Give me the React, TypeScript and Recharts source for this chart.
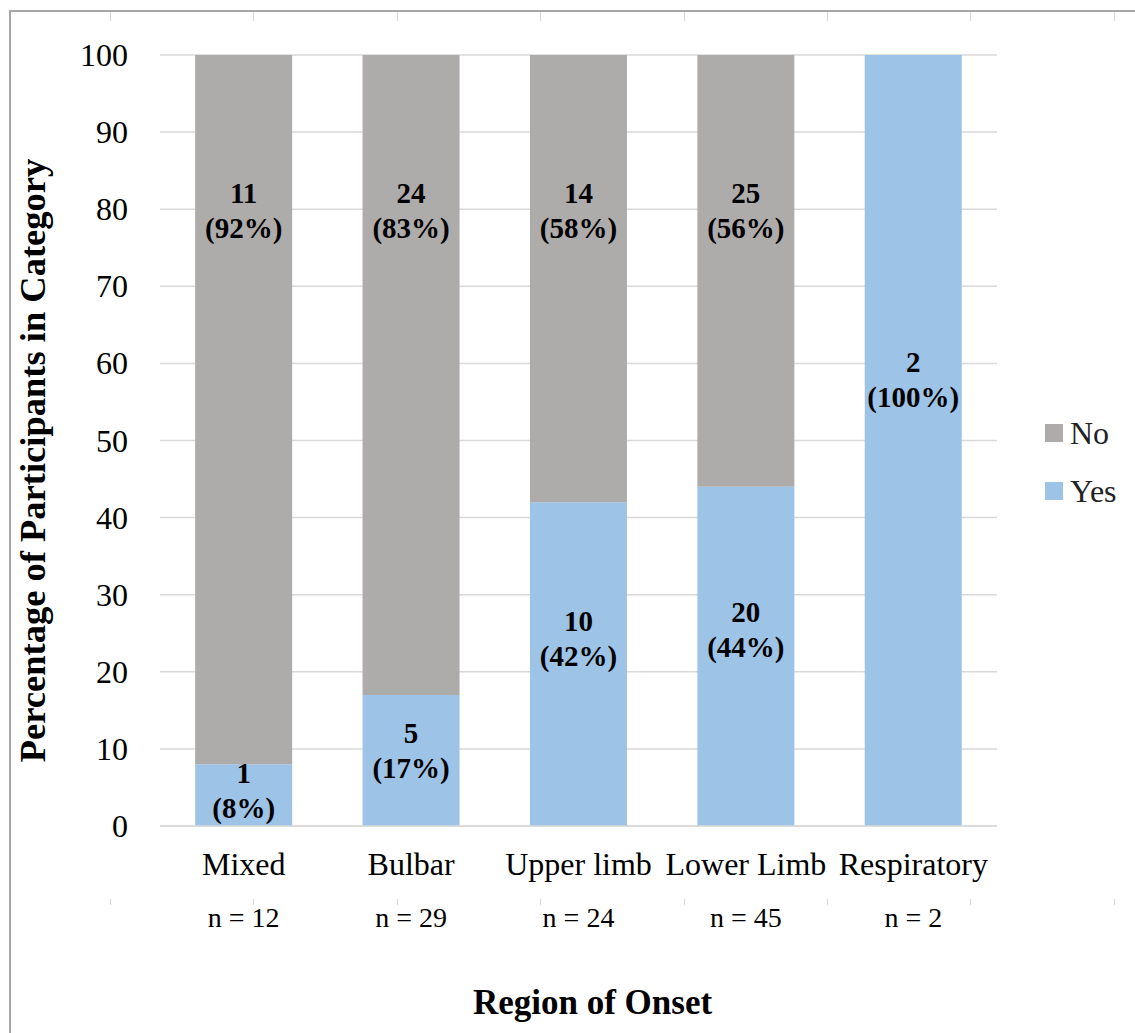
import { BarChart, Bar, XAxis, YAxis, CartesianGrid, LabelList, Label } from 'recharts';

const categories = ['Mixed', 'Bulbar', 'Upper limb', 'Lower Limb', 'Respiratory'];
const sampleSizes = [12, 29, 24, 45, 2];
const yesCounts = [1, 5, 10, 20, 2];
const noCounts = [11, 24, 14, 25, 0];
const yesPercent = [8, 17, 42, 44, 100];
const noPercent = [92, 83, 58, 56, 0];
const yTicks = [0, 10, 20, 30, 40, 50, 60, 70, 80, 90, 100];
const legendItems = ['No', 'Yes'];

const FONT = '"Liberation Serif", "Times New Roman", serif';
const GRAY = '#AEABAB';
const BLUE = '#9DC3E6';
const GRID = '#D9D9D9';

const data = categories.map((name, i) => ({
  name,
  n: sampleSizes[i],
  yes: yesPercent[i],
  no: noPercent[i],
  yesCount: yesCounts[i],
  noCount: noCounts[i],
}));

function makeSegmentLabel(kind: 'yes' | 'no') {
  return (props: any) => {
    const vb = props.viewBox ?? props;
    const { x, y, width, height } = vb;
    const idx = props.index;
    const pct = kind === 'yes' ? yesPercent[idx] : noPercent[idx];
    const count = kind === 'yes' ? yesCounts[idx] : noCounts[idx];
    if (!pct) return null;
    const cx = x + width / 2;
    // grey labels sit near the top of their segment, blue ones a bit above centre
    const cy = kind === 'no' ? y + 155 : y + height * 0.42;
    return (
      <g fontFamily={FONT} fontWeight="bold" fontSize={29} fill="#000">
        <text x={cx} y={cy - 17} textAnchor="middle" dominantBaseline="central">
          {count}
        </text>
        <text x={cx} y={cy + 18} textAnchor="middle" dominantBaseline="central">
          ({pct}%)
        </text>
      </g>
    );
  };
}

function CategoryTick(props: any) {
  const { x, y, payload } = props;
  const i = payload.index;
  return (
    <g fontFamily={FONT} fill="#000">
      <text x={x} y={y + 49} textAnchor="middle" fontSize={32}>
        {categories[i]}
      </text>
      <text x={x} y={y + 101} textAnchor="middle" fontSize={28}>
        n = {sampleSizes[i]}
      </text>
    </g>
  );
}

function ValueTick(props: any) {
  const { x, y, payload } = props;
  return (
    <text x={x} y={y} textAnchor="end" dominantBaseline="central" fontFamily={FONT} fontSize={32} fill="#000">
      {payload.value}
    </text>
  );
}

export default function App() {
  const frameTicks = Array.from({ length: 8 }, (_, k) => 110 + k * 143.4);
  const legendColors: Record<string, string> = { No: GRAY, Yes: BLUE };
  return (
    <div style={{ position: 'absolute', left: 0, top: 0, width: 1135, height: 1033, background: '#fff', overflow: 'hidden' }}>
      <div
        style={{
          position: 'absolute',
          left: 9,
          top: 10,
          width: 1200,
          height: 1100,
          borderLeft: '2px solid #A6A6A6',
          borderTop: '2px solid #A6A6A6',
        }}
      />
      {frameTicks.map((tx) => (
        <div key={'t' + tx} style={{ position: 'absolute', left: tx, top: 12, width: 1, height: 9, background: GRID }} />
      ))}
      {frameTicks.map((tx) => (
        <div key={'b' + tx} style={{ position: 'absolute', left: tx, top: 899, width: 1, height: 6, background: GRID }} />
      ))}
      <div style={{ position: 'absolute', left: 0, top: 0 }}>
        <BarChart
          width={1135}
          height={1033}
          data={data}
          margin={{ top: 55, right: 138, left: 0, bottom: 97 }}
          barCategoryGap="21%"
        >
          <CartesianGrid vertical={false} stroke={GRID} strokeWidth={1.5} />
          <XAxis
            dataKey="name"
            height={110}
            tickLine={false}
            tickSize={0}
            tickMargin={0}
            axisLine={{ stroke: GRID, strokeWidth: 1.5 }}
            tick={<CategoryTick />}
            interval={0}
          >
            <Label
              value="Region of Onset"
              position="bottom"
              offset={53}
              dx={14}
              style={{ fontFamily: FONT, fontWeight: 'bold', fontSize: 35, fill: '#000' }}
            />
          </XAxis>
          <YAxis
            width={160}
            domain={[0, 100]}
            ticks={yTicks}
            axisLine={false}
            tickLine={false}
            tickSize={0}
            tickMargin={32}
            tick={<ValueTick />}
          >
            <Label
              content={(p: any) => {
                const vb = p.viewBox;
                const cx = vb.x + 45;
                const cy = vb.y + vb.height / 2 + 20;
                return (
                  <text
                    x={cx}
                    y={cy}
                    transform={`rotate(-90, ${cx}, ${cy})`}
                    textAnchor="middle"
                    fontFamily={FONT}
                    fontWeight="bold"
                    fontSize={36.5}
                    fill="#000"
                  >
                    Percentage of Participants in Category
                  </text>
                );
              }}
            />
          </YAxis>
          <Bar dataKey="yes" name="Yes" stackId="a" fill={BLUE} isAnimationActive={false}>
            <LabelList dataKey="yes" content={makeSegmentLabel('yes')} />
          </Bar>
          <Bar dataKey="no" name="No" stackId="a" fill={GRAY} isAnimationActive={false}>
            <LabelList dataKey="no" content={makeSegmentLabel('no')} />
          </Bar>
        </BarChart>
      </div>
      <div style={{ position: 'absolute', left: 1045, top: 404, fontFamily: FONT, fontSize: 32, color: '#222' }}>
        {legendItems.map((label) => (
          <div key={label} style={{ display: 'flex', alignItems: 'center', height: 58 }}>
            <span style={{ width: 18, height: 18, background: legendColors[label], marginRight: 7, display: 'inline-block' }} />
            <span>{label}</span>
          </div>
        ))}
      </div>
    </div>
  );
}
